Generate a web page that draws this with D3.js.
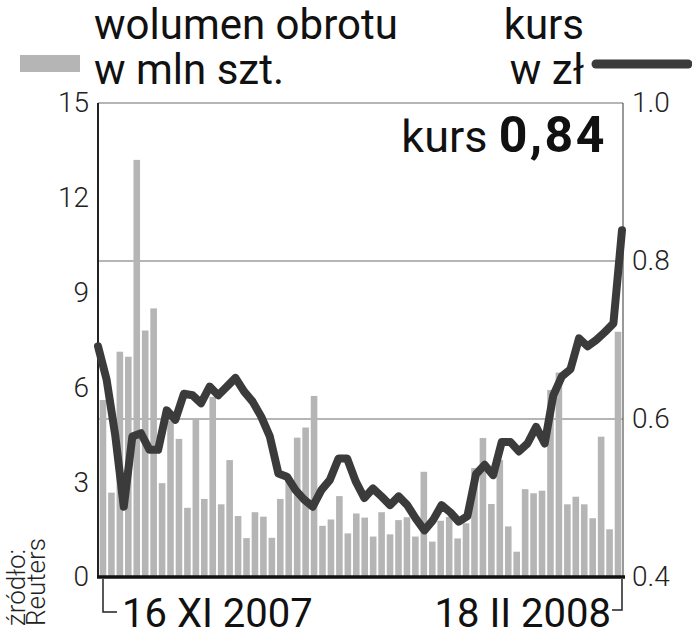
<!DOCTYPE html>
<html>
<head>
<meta charset="utf-8">
<script src="https://cdn.jsdelivr.net/npm/d3@7"></script>
<style>
  body { margin: 0; background: #fff; }
  svg { display: block; font-family: Roboto, "Noto Sans", sans-serif; }
</style>
</head>
<body>
<div id="chart"></div>
<script>
// wolumen obrotu, mln szt. (jeden slupek na sesje)
var volume = [5.6, 2.67, 7.13, 6.97, 13.2, 7.8, 8.5, 2.97, 4.95, 4.37,
    2.19, 5.0, 2.47, 5.7, 2.3, 3.7, 1.93, 1.23, 2.05, 1.91,
    1.24, 2.47, 3.1, 4.41, 4.73, 5.73, 1.62, 1.82, 2.56, 1.38,
    2.01, 1.88, 1.28, 2.05, 1.35, 1.8, 1.89, 1.28, 3.33, 1.12,
    1.78, 1.9, 1.22, 1.7, 3.45, 4.4, 2.31, 3.7, 1.6, 0.8,
    2.78, 2.65, 2.73, 5.92, 6.47, 2.3, 2.54, 2.3, 1.86, 4.44,
    1.51, 7.76];

// kurs w zl
var price = [0.692, 0.65, 0.58, 0.489, 0.578, 0.582, 0.561, 0.561, 0.611, 0.599,
    0.632, 0.630, 0.620, 0.641, 0.630, 0.641, 0.652, 0.635, 0.622, 0.603,
    0.578, 0.531, 0.527, 0.510, 0.498, 0.489, 0.510, 0.523, 0.550, 0.550,
    0.521, 0.500, 0.512, 0.502, 0.491, 0.502, 0.491, 0.474, 0.459, 0.472,
    0.491, 0.482, 0.470, 0.477, 0.530, 0.542, 0.529, 0.571, 0.571, 0.559,
    0.569, 0.590, 0.569, 0.630, 0.654, 0.663, 0.702, 0.692, 0.700, 0.710,
    0.721, 0.839];

var dateLabels = ['16 XI 2007', '18 II 2008'];
var volumeTicks = [0, 3, 6, 9, 12, 15];
var priceTicks = [0.4, 0.6, 0.8, 1.0];
var gridTicks = [0.6, 0.8, 1.0];
var lastPrice = '0,84';

var margin = { top: 103, right: 69, bottom: 63, left: 98 },
    W = 692, H = 640,
    x0 = margin.left, x1 = W - margin.right,
    y0 = H - margin.bottom, y1 = margin.top;

var svg = d3.select('#chart').append('svg')
    .attr('width', W).attr('height', H);

var x = d3.scaleBand()
    .domain(d3.range(volume.length))
    .range([x0, x1])
    .paddingInner(0.22)
    .paddingOuter(0.2);

var xl = d3.scaleLinear()
    .domain([0, price.length - 1])
    .range([x0, x1 - 1]);

var yv = d3.scaleLinear().domain([0, 15]).range([y0, y1]);
var yp = d3.scaleLinear().domain([0.4, 1.0]).range([y0, y1]);

// siatka
svg.append('g').selectAll('line')
    .data(gridTicks).enter()
    .append('line')
    .attr('x1', x0).attr('x2', x1)
    .attr('y1', yp).attr('y2', yp)
    .attr('stroke', '#9c9c9c')
    .attr('stroke-width', 1.5);

// slupki
svg.append('g').selectAll('rect')
    .data(volume).enter()
    .append('rect')
    .attr('x', function(d, i) { return x(i); })
    .attr('width', x.bandwidth())
    .attr('y', function(d) { return yv(d); })
    .attr('height', function(d) { return yv(0) - yv(d); })
    .attr('fill', '#b5b5b5');

// ramka
svg.append('line')
    .attr('x1', x0).attr('x2', x0).attr('y1', y1).attr('y2', y0)
    .attr('stroke', '#222').attr('stroke-width', 2);
svg.append('line')
    .attr('x1', x1).attr('x2', x1).attr('y1', y1).attr('y2', y0)
    .attr('stroke', '#555').attr('stroke-width', 1.2);
svg.append('line')
    .attr('x1', x0 - 1).attr('x2', x1 + 2).attr('y1', y0).attr('y2', y0)
    .attr('stroke', '#111').attr('stroke-width', 3.5);

// linia kursu
var line = d3.line()
    .x(function(d, i) { return xl(i); })
    .y(function(d) { return yp(d); });

svg.append('path')
    .datum(price)
    .attr('d', line)
    .attr('fill', 'none')
    .attr('stroke', '#3b3b3b')
    .attr('stroke-width', 8)
    .attr('stroke-linejoin', 'round')
    .attr('stroke-linecap', 'round');

// osie
var axisL = svg.append('g')
    .attr('transform', 'translate(' + (x0 - 9) + ',0)')
    .call(d3.axisLeft(yv).tickValues(volumeTicks).tickSize(0).tickPadding(0));
var axisR = svg.append('g')
    .attr('transform', 'translate(' + (x1 + 9) + ',0)')
    .call(d3.axisRight(yp).tickValues(priceTicks).tickSize(0).tickPadding(0)
        .tickFormat(d3.format('.1f')));

[axisL, axisR].forEach(function(a) {
    a.select('.domain').remove();
    a.selectAll('text')
        .attr('font-family', 'Roboto, sans-serif')
        .attr('font-size', 28)
        .attr('font-weight', 300)
        .attr('fill', '#222');
});

// klamra pod osia czasu
svg.append('path')
    .attr('d', 'M' + (x0 + 5) + ',' + (y0 + 2) + 'V' + (y0 + 35) + 'H' + (x0 + 19))
    .attr('fill', 'none').attr('stroke', '#222').attr('stroke-width', 1.5);
svg.append('path')
    .attr('d', 'M' + (x1 - 1) + ',' + (y0 + 2) + 'V' + (y0 + 33) + 'H' + (x1 - 11))
    .attr('fill', 'none').attr('stroke', '#222').attr('stroke-width', 1.5);

svg.append('text')
    .attr('x', x0 + 24).attr('y', 627)
    .attr('font-size', 40)
    .attr('fill', '#111')
    .text(dateLabels[0]);
svg.append('text')
    .attr('x', x1 - 12).attr('y', 627)
    .attr('text-anchor', 'end')
    .attr('font-size', 40)
    .attr('fill', '#111')
    .text(dateLabels[1]);

// legenda
svg.append('rect')
    .attr('x', 20).attr('y', 55).attr('width', 60).attr('height', 17)
    .attr('fill', '#b5b5b5');
svg.append('text')
    .attr('x', 94).attr('y', 39)
    .attr('font-size', 42).attr('fill', '#111')
    .text('wolumen obrotu');
svg.append('text')
    .attr('x', 94).attr('y', 84)
    .attr('font-size', 42).attr('fill', '#111')
    .text('w mln szt.');

svg.append('text')
    .attr('x', 584).attr('y', 39)
    .attr('text-anchor', 'end')
    .attr('font-size', 42).attr('fill', '#111')
    .text('kurs');
svg.append('text')
    .attr('x', 584).attr('y', 84)
    .attr('text-anchor', 'end')
    .attr('font-size', 42).attr('fill', '#111')
    .text('w zł');
svg.append('line')
    .attr('x1', 596).attr('x2', 688).attr('y1', 64).attr('y2', 64)
    .attr('stroke', '#3b3b3b').attr('stroke-width', 9)
    .attr('stroke-linecap', 'round');

// ostatni kurs
var lbl = svg.append('text')
    .attr('x', 607).attr('y', 152)
    .attr('text-anchor', 'end')
    .attr('fill', '#111');
lbl.append('tspan').attr('font-size', 45).text('kurs ');
lbl.append('tspan').attr('font-size', 50).attr('font-weight', 700)
    .attr('letter-spacing', 2.5).text(lastPrice);

// zrodlo
var src = svg.append('text')
    .attr('transform', 'translate(25,626) rotate(-90)')
    .attr('font-size', 26)
    .attr('font-weight', 300)
    .attr('fill', '#222');
src.append('tspan').attr('x', 0).attr('y', 0).text('źródło:');
src.append('tspan').attr('x', 0).attr('y', 20).text('Reuters');
</script>
</body>
</html>
